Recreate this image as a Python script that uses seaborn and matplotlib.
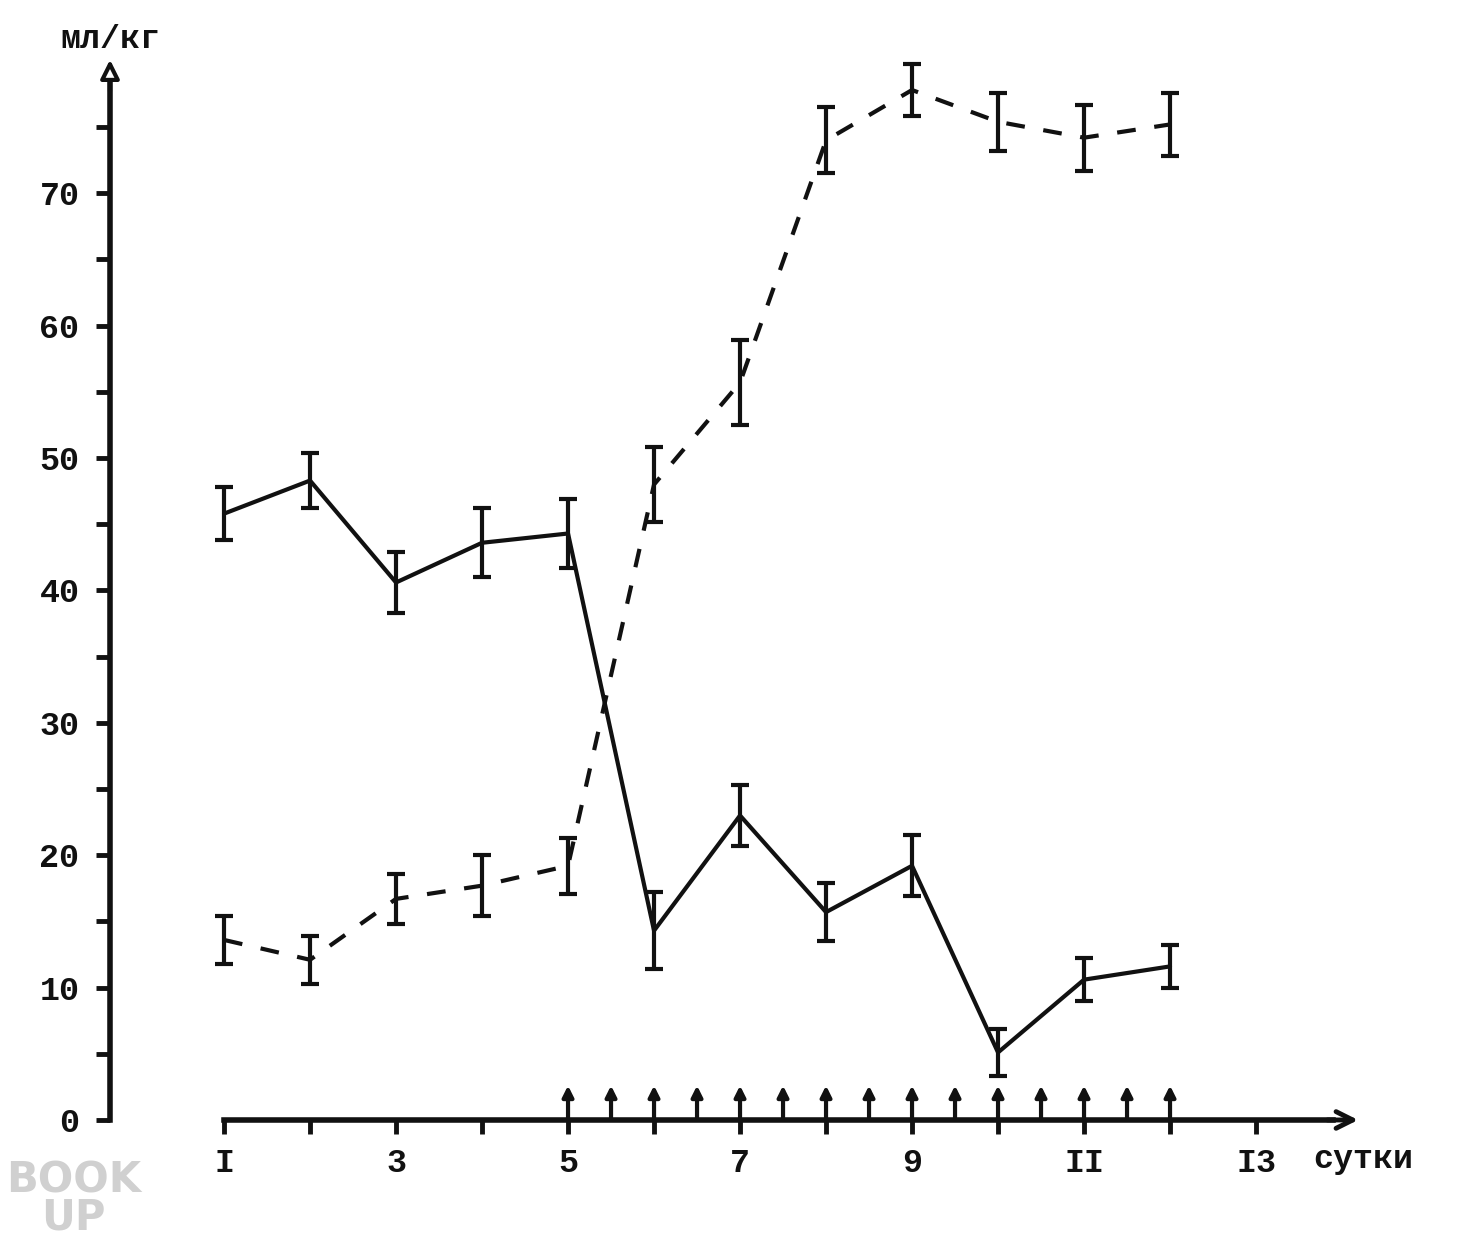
import numpy as np
import pandas as pd
import seaborn as sns
import matplotlib
matplotlib.use("Agg")
import matplotlib.pyplot as plt

# ---- data ----
days = [1, 2, 3, 4, 5, 6, 7, 8, 9, 10, 11, 12]
solid_vals = [45.8, 48.3, 40.6, 43.6, 44.3, 14.3, 23.0, 15.7, 19.2, 5.1, 10.6, 11.6]
solid_err = [2.0, 2.1, 2.3, 2.6, 2.6, 2.9, 2.3, 2.2, 2.3, 1.8, 1.6, 1.6]
dashed_vals = [13.6, 12.1, 16.7, 17.7, 19.2, 48.0, 55.7, 74.0, 77.8, 75.4, 74.2, 75.2]
dashed_err = [1.8, 1.8, 1.9, 2.3, 2.1, 2.8, 3.2, 2.5, 2.0, 2.2, 2.5, 2.4]
arrow_days = [5, 5.5, 6, 6.5, 7, 7.5, 8, 8.5, 9, 9.5, 10, 10.5, 11, 11.5, 12]
x_ticks = [1, 2, 3, 4, 5, 6, 7, 8, 9, 10, 11, 12, 13]
x_ticklabels = ["I", "", "3", "", "5", "", "7", "", "9", "", "II", "", "I3"]
y_major = [0, 10, 20, 30, 40, 50, 60, 70]
y_minor = [5, 15, 25, 35, 45, 55, 65, 75]
y_label = "мл/кг"
x_label = "сутки"

sns.set_theme(style="white")
plt.rcParams["font.family"] = ["Liberation Mono", "DejaVu Sans Mono"]
plt.rcParams["font.weight"] = "bold"

fig = plt.figure(figsize=(14.73, 12.37), dpi=100)
ax = fig.add_axes([0, 0, 1, 1])
ax.set_facecolor("white")
XMIN = -1.605
ax.set_xlim(XMIN, XMIN + 1473 / 86.0)
ax.set_ylim(-8.84, 84.6)
YAX = XMIN + 110 / 86.0

ink = "#111111"
LW = 3.0

df = pd.DataFrame({"day": days, "solid": solid_vals, "dashed": dashed_vals})
sns.lineplot(data=df, x="day", y="solid", color=ink, lw=LW, ax=ax)
sns.lineplot(data=df, x="day", y="dashed", color=ink, lw=LW,
             linestyle=(0, (4.5, 4.5)), ax=ax)
ax.errorbar(days, solid_vals, yerr=solid_err, fmt="none", ecolor=ink,
            elinewidth=LW, capsize=6.5, capthick=LW)
ax.errorbar(days, dashed_vals, yerr=dashed_err, fmt="none", ecolor=ink,
            elinewidth=LW, capsize=6.5, capthick=LW)

# ---- axes ----
for s in ["top", "right"]:
    ax.spines[s].set_visible(False)
ax.spines["left"].set_position(("data", YAX))
ax.spines["left"].set_bounds(0, 79)
ax.spines["left"].set_linewidth(4)
ax.spines["left"].set_color(ink)
ax.spines["bottom"].set_position(("data", 0))
ax.spines["bottom"].set_bounds(1, 13.9)
ax.spines["bottom"].set_linewidth(4)
ax.spines["bottom"].set_color(ink)

# arrowheads
ax.annotate("", xy=(YAX, 80.3), xytext=(YAX, 77.5),
            arrowprops=dict(arrowstyle="-|>", lw=3, color=ink,
                            mutation_scale=28, fc="white"))
ax.annotate("", xy=(14.22, 0), xytext=(13.8, 0),
            arrowprops=dict(arrowstyle="->", lw=3.5, color=ink,
                            mutation_scale=30))

ax.set_yticks(y_major)
ax.set_yticks(y_minor, minor=True)
ax.set_yticklabels([str(v) for v in y_major])
ax.tick_params(axis="y", which="both", direction="out", length=10, width=3.5,
               color=ink, left=True, pad=12, labelsize=24, labelcolor=ink)
ax.set_xticks(x_ticks)
ax.set_xticklabels(x_ticklabels)
ax.tick_params(axis="x", which="major", direction="out", length=10, width=3.5,
               color=ink, bottom=True, pad=10, labelsize=24, labelcolor=ink)
for lab in ax.get_xticklabels() + ax.get_yticklabels():
    lab.set_fontweight("bold")

ax.set_xlabel("")
ax.set_ylabel("")

# injection arrows on the time axis
for d in arrow_days:
    ax.annotate("", xy=(d, 2.6), xytext=(d, 0),
                arrowprops=dict(arrowstyle="-|>", lw=3, color=ink,
                                mutation_scale=16, shrinkA=0, shrinkB=0))

# axis titles
ax.text(YAX, 81.6, y_label, ha="center", va="center", fontsize=24,
        fontweight="bold", color=ink)
ax.text(13.66, -3.0, x_label, ha="left", va="center", fontsize=24,
        fontweight="bold", color=ink)

# faint watermark
ax.text(-0.75, -6.0, "BOOK\nUP", fontsize=30, fontweight="bold", color="#d0d0d0",
        family="DejaVu Sans", ha="center", va="center", linespacing=0.85,
        multialignment="center")

fig.savefig("out.png", dpi=100, facecolor="white")
